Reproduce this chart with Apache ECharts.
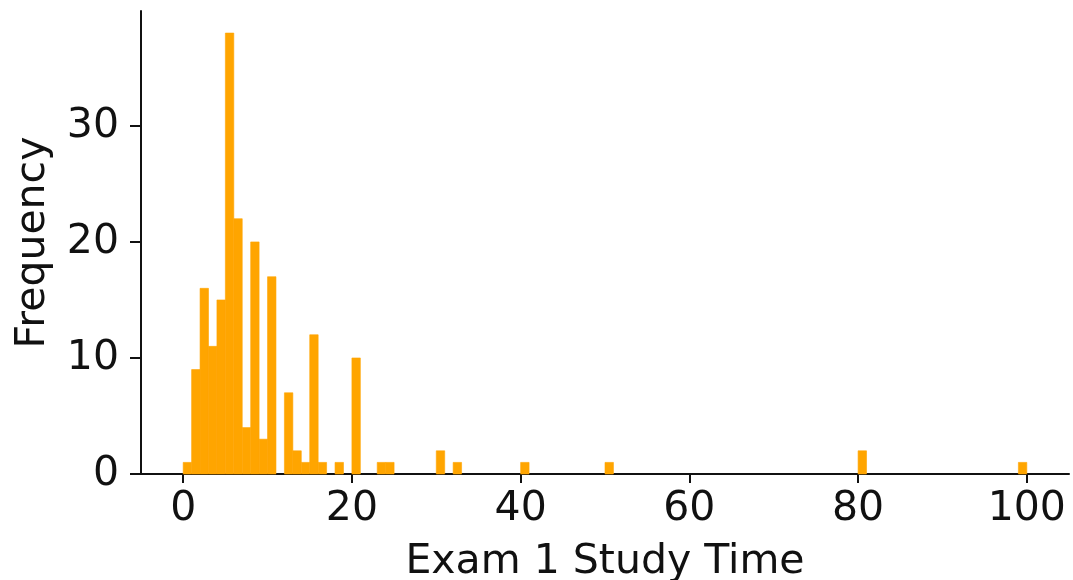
<!DOCTYPE html>
<html>
<head>
<meta charset="utf-8">
<script src="https://cdn.jsdelivr.net/npm/echarts@6/dist/echarts.min.js"></script>
<style>
  html, body { margin: 0; padding: 0; background: #fff; }
  #chart { width: 1073px; height: 580px; }
</style>
</head>
<body>
<div id="chart"></div>
<script>
// Histogram of study hours for exam 1 (bins of width 1, empty bins omitted)
const binWidth = 1;
const binStarts = [0, 1, 2, 3, 4, 5, 6, 7, 8, 9, 10, 12, 13, 14, 15, 16, 18, 20, 23, 24, 30, 32, 40, 50, 80, 99];
const counts    = [1, 9, 16, 11, 15, 38, 22, 4, 20, 3, 17, 7, 2, 1, 12, 1, 1, 10, 1, 1, 2, 1, 1, 1, 2, 1];

const xTicks = [0, 20, 40, 60, 80, 100];
const yTicks = [0, 10, 20, 30];

const xLabel = 'Exam 1 Study Time';
const yLabel = 'Frequency';

const FONT = 'DejaVu Sans';
const INK = '#111';
const FS = 41;
const BAR = '#FFA500';

const chart = echarts.init(document.getElementById('chart'), null, { renderer: 'canvas' });

const barData = binStarts.map((s, i) => [s, s + binWidth, counts[i]]);

chart.setOption({
  animation: false,
  grid: { left: 141, right: 4, top: 11, bottom: 106, containLabel: false, outerBoundsMode: 'none' },
  xAxis: {
    type: 'value',
    min: -5,
    max: 105,
    name: xLabel,
    nameLocation: 'middle',
    nameGap: 68,
    nameTextStyle: { fontFamily: FONT, fontSize: FS, color: INK },
    axisLine: { show: true, onZero: false, lineStyle: { color: INK, width: 2 } },
    axisTick: { show: true, inside: false, length: 9, customValues: xTicks, lineStyle: { color: INK, width: 2 } },
    axisLabel: { customValues: xTicks, margin: 15, fontFamily: FONT, fontSize: FS, color: INK },
    splitLine: { show: false }
  },
  yAxis: {
    type: 'value',
    min: 0,
    max: 39.9,
    name: yLabel,
    nameLocation: 'middle',
    nameGap: 87,
    nameRotate: 90,
    nameTextStyle: { fontFamily: FONT, fontSize: FS, color: INK },
    axisLine: { show: true, onZero: false, lineStyle: { color: INK, width: 2 } },
    axisTick: { show: true, inside: false, length: 11, customValues: yTicks, lineStyle: { color: INK, width: 2 } },
    axisLabel: { customValues: yTicks, margin: 22, fontFamily: FONT, fontSize: FS, color: INK },
    splitLine: { show: false }
  },
  series: [{
    type: 'custom',
    data: barData,
    encode: { x: [0, 1], y: 2 },
    renderItem: function (params, api) {
      const p0 = api.coord([api.value(0), api.value(2)]);
      const p1 = api.coord([api.value(1), 0]);
      return {
        type: 'rect',
        shape: { x: p0[0], y: p0[1], width: p1[0] - p0[0], height: p1[1] - p0[1] },
        style: { fill: BAR, stroke: BAR, lineWidth: 0.6 }
      };
    }
  }]
});
</script>
</body>
</html>
